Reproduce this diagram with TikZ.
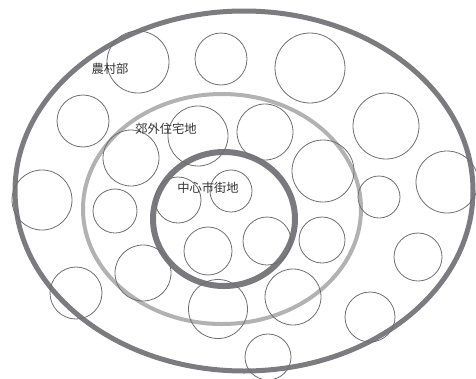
\documentclass[tikz,border=0pt]{standalone}
\usepackage{fontspec}
\newfontfamily\jpfont{Noto Sans CJK JP}
\definecolor{outerc}{HTML}{7C7C80}
\definecolor{midc}{HTML}{B2B2B4}
\definecolor{innerc}{HTML}{7A7A7E}
\definecolor{circc}{HTML}{6E6E6E}
\definecolor{txtc}{HTML}{333333}
\begin{document}
\begin{tikzpicture}[x=1pt,y=-1pt,
  circ/.style={circle,draw=circc,line width=0.8pt,inner sep=0pt,minimum size=#1},
  lbl/.style={font=\jpfont\fontsize{12.3}{13}\selectfont,text=txtc,inner sep=0pt}]
\useasboundingbox (0,0) rectangle (476,378);
\draw[outerc,line width=5pt] (244,191) ellipse [x radius=229, y radius=180];
\draw[midc,line width=4pt] (222,209) ellipse [x radius=139, y radius=115];
\draw[innerc,line width=6pt] (224,219) ellipse [x radius=71, y radius=67];
\foreach \n/\x/\y/\r in {a/138/62/31, b/221/59/26, c/310/68/35, d/83/121/26,
  e/198/136/30, f/265/132/28, g/386/126/33, h/131/158/28, i/323/171/31,
  j/447/182/31, k/42/200/30, l/115/211/22, m/178/200/23, n/231/191/21,
  o/379/197/21, p/208/251/24, q/267/241/24, r/322/240/23, s/418/257/24,
  t/143/273/28, u/76/293/26, v/218/309/29.5, w/293/297/28, y/370/317/25,
  z/268/357/23}
  \node[circ=2*\r pt] (c\n) at (\x,\y) {};
\node[lbl] (rural) at (110,69) {農村部};
\node[lbl] (suburb) at (166,129) {郊外住宅地};
\node[lbl] (center) at (208,188) {中心市街地};
\end{tikzpicture}
\end{document}
